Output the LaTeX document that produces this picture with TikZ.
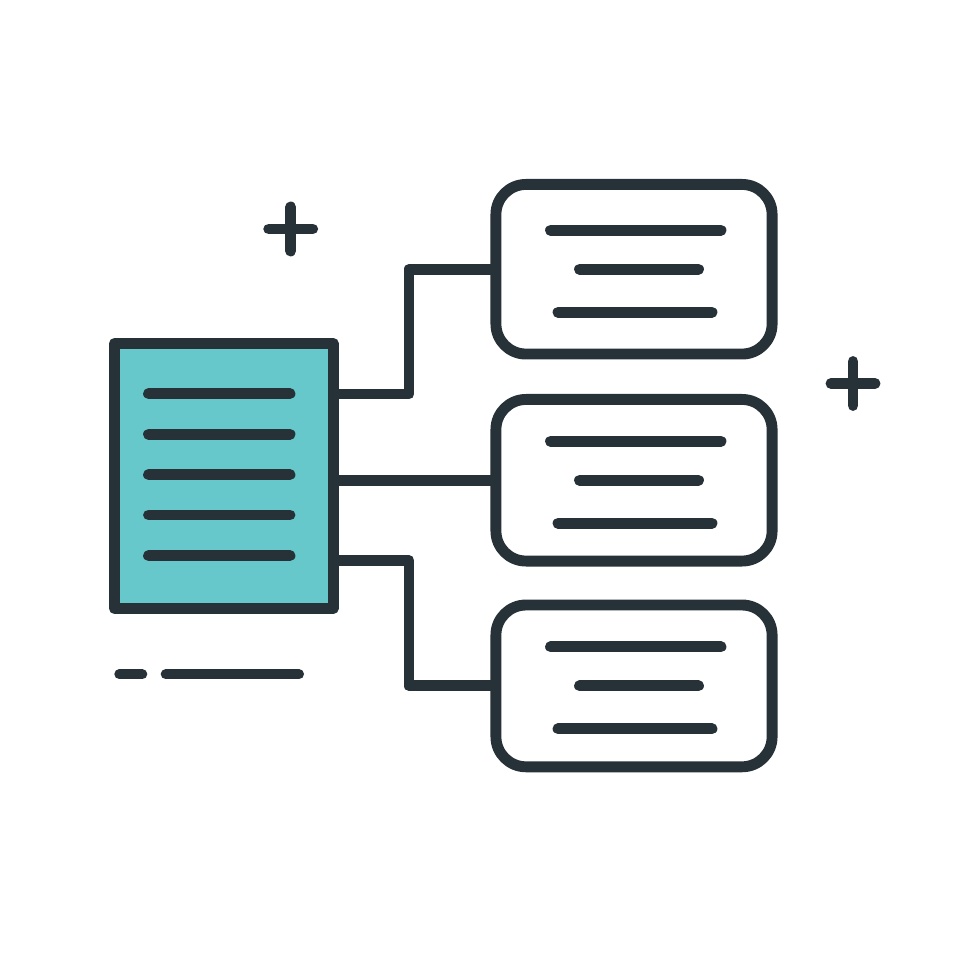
\documentclass[tikz,border=0pt]{standalone}
\usetikzlibrary{positioning}
\definecolor{ink}{RGB}{38,50,56}
\definecolor{sheetfill}{RGB}{102,200,202}
\newcommand\plusmark[1]{%
\draw[bar] (#1) +(-22,0) -- +(22,0) (#1) +(0,-22) -- +(0,22);
}
\newcommand\cardlines[1]{%
\draw[bar] ([shift={(-83.5,-39)}]#1.center) -- ([shift={(87,-39)}]#1.center);
\draw[bar] ([shift={(-54.5,0)}]#1.center) -- ([shift={(64.5,0)}]#1.center);
\draw[bar] ([shift={(-76,43)}]#1.center) -- ([shift={(78,43)}]#1.center);
}

\begin{document}
\begin{tikzpicture}[x=0.01cm,y=-0.01cm,line join=round,
    bar/.style={draw=ink,line width=3.1pt,line cap=round},
    wire/.style={draw=ink,line width=3.1pt},
    sheet/.style={draw=ink,fill=sheetfill,line width=3.1pt,outer sep=0pt,
        minimum width=2.185cm,minimum height=2.65cm,inner sep=0pt},
    card/.style={draw=ink,fill=white,line width=3.1pt,outer sep=0pt,rounded corners=0.3cm,
        minimum width=2.76cm,inner sep=0pt}]
	%% frame
	\useasboundingbox (0,0) rectangle (980,980);
	\fill[white] (0,0) rectangle (980,980);

	\def\jx{409} % x of the bends

	% the document
	\node[sheet] (doc) at (223.75,476) {};
	\foreach \y in {393.7,434.3,474.7,515,555.7}
		\draw[bar] (148.5,\y) -- (290,\y);

	% the three cards
	\node[card,minimum height=1.695cm] (box1) at (634,269.25) {};
	\node[card,minimum height=1.615cm] (box2) at (634,480.25) {};
	\node[card,minimum height=1.617cm] (box3) at (634,685.9) {};
	\cardlines{box1}
	\cardlines{box2}
	\cardlines{box3}

	% connectors
	\coordinate (j1) at (\jx,394);
	\coordinate (j3) at (\jx,560.5);
	\draw[wire] (doc.east |- j1) -- (j1) |- (box1.west);
	\draw[wire] (doc.east |- box2.west) -- (box2.west);
	\draw[wire] (doc.east |- j3) -- (j3) |- (box3.west);

	% sparkles
	\plusmark{290.7,229}
	\plusmark{853,383.5}

	% dashes under the document
	\draw[bar,line width=2.85pt] (119.3,674.3) -- (142.3,674.3);
	\draw[bar,line width=2.85pt] (165.7,674.3) -- (299,674.3);
\end{tikzpicture}
\end{document}
